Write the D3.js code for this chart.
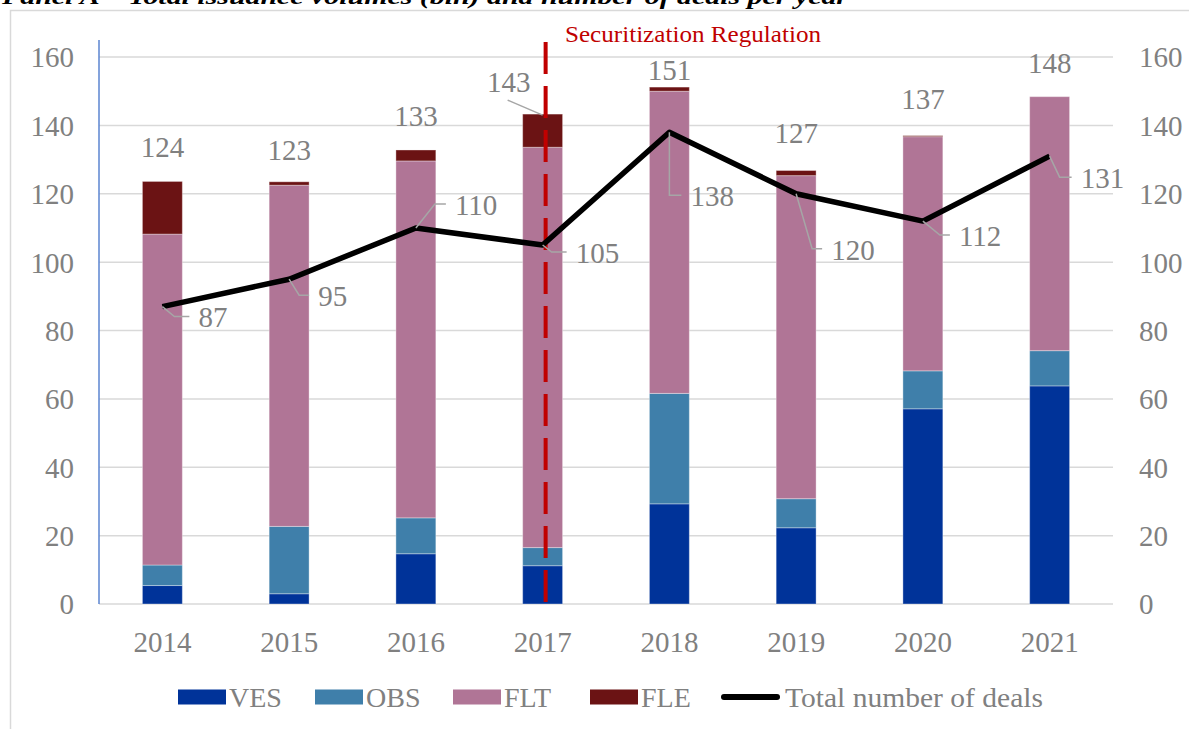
<!DOCTYPE html>
<html>
<head>
<meta charset="utf-8">
<script src="https://cdn.jsdelivr.net/npm/d3@7"></script>
<style>
  body { margin: 0; background: #fff; }
  svg { display: block; font-family: "Liberation Serif", "Times New Roman", serif; }
</style>
</head>
<body>
<div id="chart"></div>
<script>
// data (bln)
const years = ['2014', '2015', '2016', '2017', '2018', '2019', '2020', '2021'];
const ves = [5.4, 3.0, 14.7, 11.2, 29.3, 22.3, 57.1, 63.8];
const obs = [6.0, 19.7, 10.5, 5.3, 32.3, 8.5, 11.1, 10.3];
const flt = [96.8, 99.8, 104.4, 117.1, 88.4, 94.5, 68.5, 74.3];
const fle = [15.4, 1.0, 3.2, 9.7, 1.2, 1.5, 0.3, 0.0];
const totals = [124, 123, 133, 143, 151, 127, 137, 148];
const deals = [87, 95, 110, 105, 138, 120, 112, 131];
const yTicks = [0, 20, 40, 60, 80, 100, 120, 140, 160];
const seriesNames = ['VES', 'OBS', 'FLT', 'FLE'];
const regulationYear = '2017';

// colours
const colors = { VES: '#003399', OBS: '#3F7FAA', FLT: '#B07596', FLE: '#6B1314' };
const grey = '#808080';

// label placement (pixels, relative to the anchor)
const totalOffsets = [[0, -34], [0, -32], [0, -34], [-34, -32], [0, -17], [0, -37], [0, -36], [0, -34]];
// [elbow dx, elbow dy, end dx]
const dealLeaders = [[12, 10, 27], [10, 16, 20], [19, -24, 30], [9, 7, 24], [0, 63, 12], [16, 55, 26], [17, 14, 27], [10, 21, 22]];

const W = 1189, H = 729;
const svg = d3.select('#chart').append('svg').attr('width', W).attr('height', H);

// title (top cut by the crop, as in the source)
svg.append('text')
  .attr('x', 2).attr('y', 4)
  .attr('font-size', 22).attr('font-weight', 'bold').attr('font-style', 'italic')
  .attr('textLength', 846).attr('lengthAdjust', 'spacingAndGlyphs')
  .text('Panel A \u2013 Total issuance volumes (bln) and number of deals per year');

// chart frame
svg.append('rect')
  .attr('x', 10.5).attr('y', 10.5).attr('width', 1200).attr('height', 760)
  .attr('fill', 'none').attr('stroke', '#d9d9d9').attr('stroke-width', 1.5);

const x = d3.scaleBand().domain(years).range([99, 1113]).paddingInner(0.685).paddingOuter(0.3425);
const y = d3.scaleLinear().domain([0, 160]).range([604, 57]);

// gridlines
svg.append('g').selectAll('line').data(yTicks).join('line')
  .attr('x1', 99).attr('x2', 1113)
  .attr('y1', d => y(d)).attr('y2', d => y(d))
  .attr('stroke', '#d9d9d9').attr('stroke-width', 1.5);

// left axis
const leftAxis = svg.append('g').attr('transform', 'translate(74,0)')
  .call(d3.axisLeft(y).tickValues(yTicks).tickSize(0).tickPadding(0));
leftAxis.select('.domain').remove();
// right axis
const rightAxis = svg.append('g').attr('transform', 'translate(1139,0)')
  .call(d3.axisRight(y).tickValues(yTicks).tickSize(0).tickPadding(0));
rightAxis.select('.domain').remove();
svg.selectAll('.tick text')
  .attr('font-family', '"Liberation Serif", serif')
  .attr('font-size', 29).attr('fill', grey).attr('dy', '0.34em');

svg.append('line')
  .attr('x1', 99).attr('x2', 99).attr('y1', 40).attr('y2', 604)
  .attr('stroke', '#5b84d0').attr('stroke-width', 1.5);

// x axis labels
const xAxis = svg.append('g').attr('transform', 'translate(0,604)')
  .call(d3.axisBottom(x).tickSize(0).tickPadding(27));
xAxis.select('.domain').remove();
xAxis.selectAll('text')
  .attr('font-family', '"Liberation Serif", serif')
  .attr('font-size', 29).attr('fill', grey);

// stacked bars
const rows = years.map((yr, i) => ({ year: yr, VES: ves[i], OBS: obs[i], FLT: flt[i], FLE: fle[i] }));
const stacked = d3.stack().keys(seriesNames)(rows);

svg.append('g').selectAll('g').data(stacked).join('g')
  .attr('fill', d => colors[d.key])
  .selectAll('rect').data(d => d).join('rect')
  .attr('x', d => x(d.data.year))
  .attr('width', x.bandwidth())
  .attr('y', d => y(d[1]))
  .attr('height', d => Math.max(0, y(d[0]) - y(d[1])))
  .attr('stroke', 'rgba(255,255,255,0.35)').attr('stroke-width', 1);

// regulation line
const regX = x(regulationYear) + x.bandwidth() / 2 + 3;
svg.append('line')
  .attr('x1', regX).attr('x2', regX).attr('y1', 42).attr('y2', 604)
  .attr('stroke', '#C00000').attr('stroke-width', 4)
  .attr('stroke-dasharray', '32 12');
svg.append('text')
  .attr('x', 565).attr('y', 42)
  .attr('font-size', 24).attr('fill', '#C00000')
  .attr('textLength', 256).attr('lengthAdjust', 'spacingAndGlyphs')
  .text('Securitization Regulation');

// totals above the bars
const barTop = i => y(ves[i] + obs[i] + flt[i] + fle[i]);
const cx = yr => x(yr) + x.bandwidth() / 2;

svg.append('line')
  .attr('x1', cx('2017') - 35).attr('y1', barTop(3) - 14)
  .attr('x2', cx('2017')).attr('y2', barTop(3) + 1)
  .attr('stroke', '#a6a6a6').attr('stroke-width', 1.5);

svg.append('g').selectAll('text').data(totals).join('text')
  .attr('x', (d, i) => cx(years[i]) + totalOffsets[i][0])
  .attr('y', (d, i) => barTop(i) + totalOffsets[i][1])
  .attr('dy', '0.34em')
  .attr('text-anchor', 'middle')
  .attr('font-size', 29).attr('fill', grey)
  .text(d => d);

// total number of deals
const line = d3.line().x((d, i) => cx(years[i])).y(d => y(d));
svg.append('path')
  .datum(deals)
  .attr('d', line)
  .attr('fill', 'none').attr('stroke', '#000').attr('stroke-width', 5.5)
  .attr('stroke-linejoin', 'round');

const dealG = svg.append('g');
deals.forEach((d, i) => {
  const px = cx(years[i]), py = y(d);
  const [ex, ey, endx] = dealLeaders[i];
  dealG.append('polyline')
    .attr('points', `${px},${py} ${px + ex},${py + ey} ${px + endx},${py + ey}`)
    .attr('fill', 'none').attr('stroke', '#a6a6a6').attr('stroke-width', 1.5);
  dealG.append('text')
    .attr('x', px + endx + 9).attr('y', py + ey + 1)
    .attr('dy', '0.34em')
    .attr('font-size', 29).attr('fill', grey)
    .text(d);
});

// legend
const legend = svg.append('g').attr('transform', 'translate(0,697)');
const legendX = [178, 315, 453, 590];
seriesNames.forEach((name, i) => {
  legend.append('rect')
    .attr('x', legendX[i]).attr('y', -7.5).attr('width', 48).attr('height', 15)
    .attr('fill', colors[name]);
  legend.append('text')
    .attr('x', legendX[i] + 51).attr('y', 0).attr('dy', '0.34em')
    .attr('font-size', 28).attr('fill', grey)
    .text(name);
});
legend.append('line')
  .attr('x1', 724).attr('x2', 777).attr('y1', 0).attr('y2', 0)
  .attr('stroke', '#000').attr('stroke-width', 6).attr('stroke-linecap', 'round');
legend.append('text')
  .attr('x', 785).attr('y', 0).attr('dy', '0.34em')
  .attr('font-size', 28).attr('fill', grey)
  .attr('textLength', 258).attr('lengthAdjust', 'spacingAndGlyphs')
  .text('Total number of deals');
</script>
</body>
</html>
